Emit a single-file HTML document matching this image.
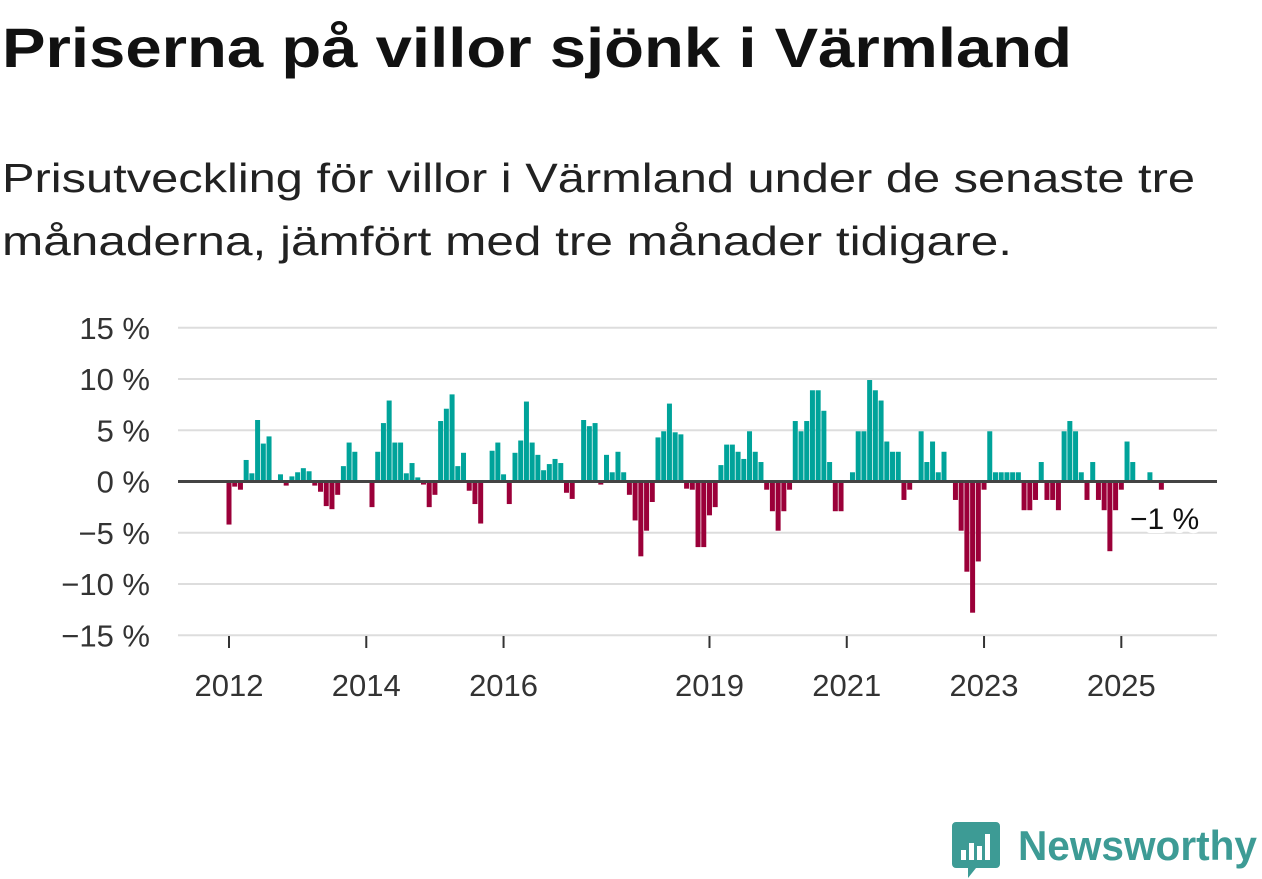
<!DOCTYPE html>
<html><head><meta charset="utf-8"><style>
html,body{margin:0;padding:0;background:#fff;}
svg{display:block;font-family:"Liberation Sans","DejaVu Sans",sans-serif;}
</style></head><body>
<svg id="chart" width="1262" height="879" viewBox="0 0 1262 879">
<text x="2" y="67" font-size="56" font-weight="bold" fill="#111" textLength="1070" lengthAdjust="spacingAndGlyphs">Priserna på villor sjönk i Värmland</text>
<text x="2" y="192" font-size="41" fill="#222" textLength="1193" lengthAdjust="spacingAndGlyphs">Prisutveckling för villor i Värmland under de senaste tre</text>
<text x="2" y="255" font-size="41" fill="#222" textLength="1010" lengthAdjust="spacingAndGlyphs">månaderna, jämfört med tre månader tidigare.</text>
<g id="grid"></g><g id="bars"></g><g id="axes"></g>
<g>
<text x="1130" y="529" font-size="30" fill="#fff" stroke="#fff" stroke-width="8" stroke-linejoin="round">−1 %</text>
<text x="1130" y="529" font-size="30" fill="#111">−1 %</text>
</g>
<g>
<path d="M956 822 h40 a4 4 0 0 1 4 4 v38 a4 4 0 0 1 -4 4 h-20 l-8 10 v-10 h-12 a4 4 0 0 1 -4 -4 v-38 a4 4 0 0 1 4 -4z" fill="#3d9b95"/>
<rect x="961" y="850" width="5" height="10" fill="#fff"/><rect x="969" y="843" width="5" height="17" fill="#fff"/><rect x="977" y="846" width="5" height="14" fill="#fff"/><rect x="985" y="834" width="5" height="26" fill="#fff"/>
<text x="1018" y="860" font-size="42" font-weight="bold" fill="#3d9b95" textLength="239" lengthAdjust="spacingAndGlyphs">Newsworthy</text>
</g>
</svg>
<script>
const values = [-4.2,-0.5,-0.8,2.1,0.8,6.0,3.7,4.4,0,0.7,-0.4,0.5,0.9,1.3,1.0,-0.4,-1.0,-2.4,-2.7,-1.3,1.5,3.8,2.9,0,0,-2.5,2.9,5.7,7.9,3.8,3.8,0.8,1.8,0.4,-0.3,-2.5,-1.3,5.9,7.1,8.5,1.5,2.8,-0.9,-2.2,-4.1,0,3.0,3.8,0.7,-2.2,2.8,4.0,7.8,3.8,2.6,1.1,1.7,2.2,1.8,-1.1,-1.7,0,6.0,5.4,5.7,-0.3,2.6,0.9,2.9,0.9,-1.3,-3.8,-7.3,-4.8,-2.0,4.3,4.9,7.6,4.8,4.6,-0.7,-0.8,-6.4,-6.4,-3.3,-2.5,1.6,3.6,3.6,2.9,2.2,4.9,2.9,1.9,-0.8,-2.9,-4.8,-2.9,-0.8,5.9,4.9,5.9,8.9,8.9,6.9,1.9,-2.9,-2.9,0,0.9,4.9,4.9,9.9,8.9,7.9,3.9,2.9,2.9,-1.8,-0.8,0,4.9,1.9,3.9,0.9,2.9,0,-1.8,-4.8,-8.8,-12.8,-7.8,-0.8,4.9,0.9,0.9,0.9,0.9,0.9,-2.8,-2.8,-1.8,1.9,-1.8,-1.8,-2.8,4.9,5.9,4.9,0.9,-1.8,1.9,-1.8,-2.8,-6.8,-2.8,-0.8,3.9,1.9,0,0,0.9,0,-0.8];
const startYear = 2012;
const yTicks = [15,10,5,0,-5,-10,-15];
const yTickLabels = ["15 %","10 %","5 %","0 %","−5 %","−10 %","−15 %"];
const xTickYears = [2012,2014,2016,2019,2021,2023,2025];

const NS="http://www.w3.org/2000/svg";
const y0=481.5, pxPer=10.25, x0=229, monthW=5.72;
const yScale=v=>y0 - v*pxPer;
const xScale=i=>x0 + i*monthW;
function mk(tag,attrs,parent){const e=document.createElementNS(NS,tag);for(const k in attrs)e.setAttribute(k,attrs[k]);parent.appendChild(e);return e;}
const grid=document.getElementById('grid'),bars=document.getElementById('bars'),axes=document.getElementById('axes');
yTicks.forEach((t,k)=>{
  if(t!==0){const l=mk('line',{x1:178,x2:1217,y1:yScale(t),y2:yScale(t),stroke:'#ddd','stroke-width':2},grid);
  
  }
  const tx=mk('text',{x:150,y:yScale(t)+11,'text-anchor':'end','font-size':31,fill:'#333'},axes);
  tx.textContent=yTickLabels[k];
  
  
});
values.forEach((v,i)=>{
  if(v===0)return;
  const y=yScale(Math.max(v,0)),h=Math.abs(v)*pxPer;
  const r=mk('rect',{x:xScale(i)-2.5,y:y,width:5,height:h,fill:v>0?'#00a39a':'#9b0039'},bars);
  
  
});
const zl=mk('line',{x1:178,x2:1217,y1:y0,y2:y0,stroke:'#444','stroke-width':3},axes);


xTickYears.forEach(yr=>{
  const x=xScale((yr-startYear)*12);
  const tk=mk('line',{x1:x,x2:x,y1:636,y2:648,stroke:'#333','stroke-width':2},axes);
  
  
  const tx=mk('text',{x:x,y:696,'text-anchor':'middle','font-size':31,fill:'#333'},axes);
  tx.textContent=yr;
  
  
});
</script>
</body></html>
